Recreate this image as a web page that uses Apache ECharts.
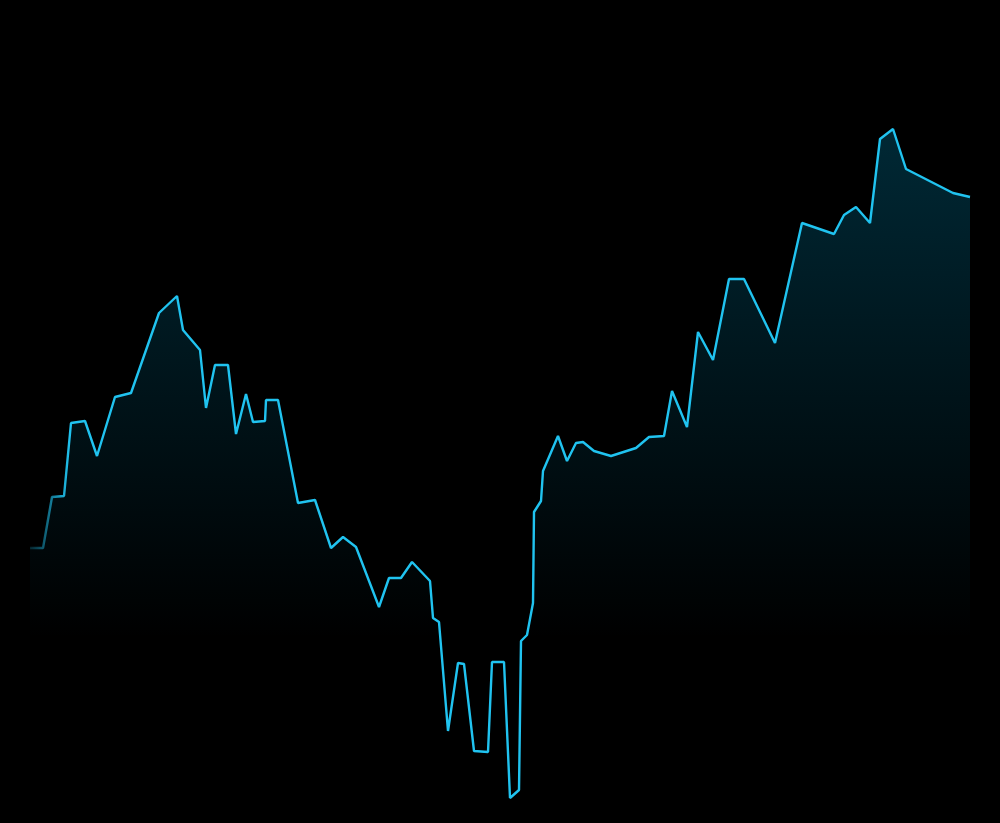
<!DOCTYPE html>
<html>
<head>
<meta charset="utf-8">
<style>
  html, body { margin: 0; padding: 0; background: #000; }
  #chart { width: 1000px; height: 823px; }
</style>
<script src="https://cdn.jsdelivr.net/npm/echarts@6/dist/echarts.min.js"></script>
</head>
<body>
<div id="chart"></div>
<script>
// Day offsets of each observation
var days = [0, 13, 22, 34, 41, 55, 67, 85, 101, 129, 147, 153, 170, 176, 185, 198, 206, 216, 223, 235,
  236, 248, 268, 285, 301, 313, 326, 349, 359, 371, 382, 400, 403, 409, 418, 428, 434, 444, 458, 462,
  474, 480, 489, 491, 497, 503, 504, 511, 513, 528, 537, 546, 553, 564, 581, 606, 619, 634, 642, 657,
  668, 683, 699, 714, 745, 772, 804, 814, 826, 840, 850, 863, 876, 923, 940];
// Observed values
var values = [252, 252, 303, 304, 377, 379, 344, 403, 407, 487, 504, 470, 450, 392, 435, 435, 366, 406, 378, 379,
  400, 400, 297, 300, 252, 263, 253, 193, 222, 222, 238, 219, 182, 178, 69, 137, 136, 49, 48, 138,
  138, 2, 10, 159, 165, 197, 288, 299, 329, 364, 339, 357, 358, 349, 344, 352, 363, 364, 409, 373,
  468, 440, 521, 521, 457, 577, 566, 585, 593, 577, 661, 671, 631, 607, 603];

var seriesData = days.map(function (d, i) { return [d, values[i]]; });

var chart = echarts.init(document.getElementById('chart'), null, { renderer: 'canvas' });
chart.setOption({
  backgroundColor: '#000000',
  animation: false,
  grid: { left: 30, right: 30, top: 100, bottom: 23 },
  xAxis: {
    type: 'value', min: 0, max: 940, show: false
  },
  yAxis: {
    type: 'value', min: 0, max: 700, show: false
  },
  series: [{
    type: 'line',
    data: seriesData,
    symbol: 'none',
    smooth: false,
    clip: false,
    lineStyle: {
      width: 2.4,
      color: new echarts.graphic.LinearGradient(0, 0, 1, 0, [
        { offset: 0, color: 'rgba(32,195,240,0.12)' },
        { offset: 0.045, color: 'rgba(32,195,240,1)' },
        { offset: 1, color: 'rgba(32,195,240,1)' }
      ])
    },
    areaStyle: {
      color: new echarts.graphic.LinearGradient(0, 0, 0, 1, [
        { offset: 0, color: 'rgba(0,160,210,0.36)' },
        { offset: 0.76, color: 'rgba(0,160,210,0)' },
        { offset: 1, color: 'rgba(0,160,210,0)' }
      ])
    }
  }]
});
</script>
</body>
</html>
